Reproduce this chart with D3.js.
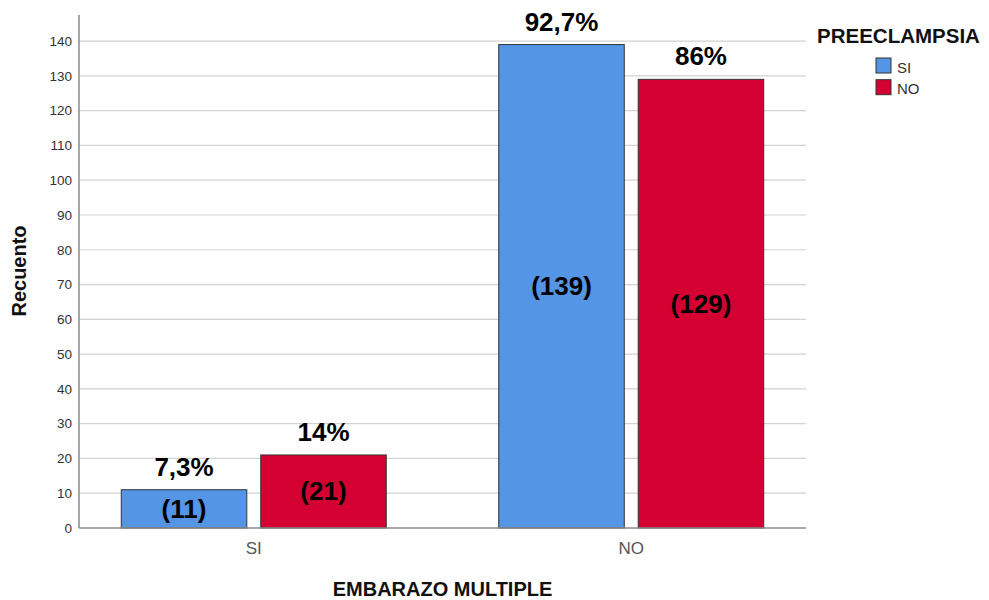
<!DOCTYPE html>
<html>
<head>
<meta charset="utf-8">
<script src="https://cdn.jsdelivr.net/npm/d3@7"></script>
<style>
  html, body { margin: 0; padding: 0; background: #fff; }
  svg { display: block; font-family: Arial, "Liberation Sans", sans-serif; }
</style>
</head>
<body>
<svg id="chart" width="989" height="600"></svg>
<script>
// Embarazo múltiple por preeclampsia (recuentos)
const categories = ["SI", "NO"];              // EMBARAZO MULTIPLE
const seriesNames = ["SI", "NO"];             // PREECLAMPSIA
const countsSI = [11, 139];                   // preeclampsia = SI
const countsNO = [21, 129];                   // preeclampsia = NO
const pctSI = ["7,3%", "92,7%"];
const pctNO = ["14%", "86%"];
const yTicks = [0, 10, 20, 30, 40, 50, 60, 70, 80, 90, 100, 110, 120, 130, 140];
const colors = ["#5495E5", "#D50032"];

(function () {
  const svg = d3.select("#chart");

  const plotLeft = 79, plotRight = 806, plotTop = 15, plotBottom = 528;

  const x = d3.scaleBand().domain(categories).range([plotLeft, plotRight])
    .paddingInner(0.298).paddingOuter(0.112);
  const xInner = d3.scaleBand().domain(seriesNames).range([0, x.bandwidth()])
    .paddingInner(0.1);
  const y = d3.scaleLinear().domain([0, 147.5]).range([plotBottom, plotTop]);

  // gridlines
  svg.append("g")
    .selectAll("line")
    .data(yTicks.filter(d => d > 0))
    .join("line")
    .attr("x1", plotLeft).attr("x2", plotRight)
    .attr("y1", d => y(d)).attr("y2", d => y(d))
    .attr("stroke", "#d2d2d2").attr("stroke-width", 1.2);

  // y axis
  const yAxis = svg.append("g")
    .attr("transform", `translate(${plotLeft},0)`)
    .call(d3.axisLeft(y).tickValues(yTicks).tickSize(0).tickPadding(7));
  yAxis.select(".domain").remove();
  yAxis.selectAll("text")
    .attr("font-size", 13.5).attr("fill", "#333")
    .attr("font-family", "Arial, 'Liberation Sans', sans-serif");

  svg.append("line")
    .attr("x1", plotLeft).attr("x2", plotLeft).attr("y1", plotTop).attr("y2", plotBottom)
    .attr("stroke", "#8a8a8a").attr("stroke-width", 1.5);

  // bars
  const rows = categories.map((c, i) => ({
    cat: c,
    bars: [
      { s: seriesNames[0], v: countsSI[i], pct: pctSI[i], color: colors[0] },
      { s: seriesNames[1], v: countsNO[i], pct: pctNO[i], color: colors[1] }
    ]
  }));

  const groups = svg.append("g").selectAll("g")
    .data(rows).join("g")
    .attr("transform", d => `translate(${x(d.cat)},0)`);

  groups.selectAll("rect")
    .data(d => d.bars).join("rect")
    .attr("x", d => xInner(d.s))
    .attr("y", d => y(d.v))
    .attr("width", xInner.bandwidth())
    .attr("height", d => y(0) - y(d.v))
    .attr("fill", d => d.color)
    .attr("stroke", "#333").attr("stroke-width", 1);

  // percent labels above bars
  groups.selectAll("text.pct")
    .data(d => d.bars).join("text")
    .attr("class", "pct")
    .attr("x", d => xInner(d.s) + xInner.bandwidth() / 2)
    .attr("y", d => y(d.v) - 14)
    .attr("text-anchor", "middle")
    .attr("font-size", 26).attr("font-weight", "bold").attr("fill", "#000")
    .text(d => d.pct);

  // count labels inside bars
  groups.selectAll("text.cnt")
    .data(d => d.bars).join("text")
    .attr("class", "cnt")
    .attr("x", d => xInner(d.s) + xInner.bandwidth() / 2)
    .attr("y", d => (y(d.v) + y(0)) / 2 + 9)
    .attr("text-anchor", "middle")
    .attr("font-size", 26).attr("font-weight", "bold").attr("fill", "#000")
    .text(d => `(${d.v})`);

  // x baseline
  svg.append("line")
    .attr("x1", plotLeft).attr("x2", plotRight).attr("y1", plotBottom).attr("y2", plotBottom)
    .attr("stroke", "#8a8a8a").attr("stroke-width", 1.5);

  // x axis labels
  const xAxis = svg.append("g")
    .attr("transform", `translate(0,${plotBottom})`)
    .call(d3.axisBottom(x).tickSize(0).tickPadding(14));
  xAxis.select(".domain").remove();
  xAxis.selectAll("text")
    .attr("font-size", 17).attr("fill", "#555")
    .attr("font-family", "Arial, 'Liberation Sans', sans-serif");

  // axis titles
  svg.append("text")
    .attr("x", (plotLeft + plotRight) / 2).attr("y", 596)
    .attr("text-anchor", "middle")
    .attr("font-size", 20).attr("font-weight", "bold").attr("fill", "#111")
    .text("EMBARAZO MULTIPLE");

  svg.append("text")
    .attr("transform", "translate(26,271) rotate(-90)")
    .attr("text-anchor", "middle")
    .attr("font-size", 20).attr("font-weight", "bold").attr("fill", "#111")
    .text("Recuento");

  // legend
  const legend = svg.append("g");
  legend.append("text")
    .attr("x", 817).attr("y", 42.5)
    .attr("font-size", 20.5).attr("font-weight", "bold").attr("fill", "#111")
    .text("PREECLAMPSIA");

  const items = legend.selectAll("g.item")
    .data(seriesNames).join("g")
    .attr("class", "item")
    .attr("transform", (d, i) => `translate(876,${58 + i * 21.7})`);
  items.append("rect")
    .attr("width", 15).attr("height", 15)
    .attr("fill", (d, i) => colors[i])
    .attr("stroke", "#333").attr("stroke-width", 1);
  items.append("text")
    .attr("x", 21).attr("y", 14.5)
    .attr("font-size", 15).attr("fill", "#333")
    .text(d => d);
})();
</script>
</body>
</html>
